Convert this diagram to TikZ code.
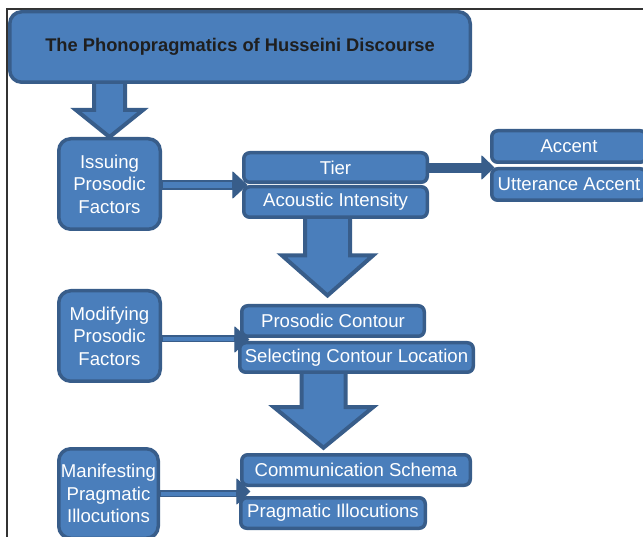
\documentclass[tikz,border=0pt]{standalone}
\usepackage{fontspec}
\setmainfont{Liberation Sans}
\usetikzlibrary{calc}
\definecolor{fil}{HTML}{4A7EBB}
\definecolor{bdr}{HTML}{385D8A}
\definecolor{ttl}{HTML}{1F1F1F}
\definecolor{frm}{HTML}{333333}
\pgfdeclarelayer{bg}
\pgfsetlayers{bg,main}
\begin{document}
\begin{tikzpicture}[x=1pt,y=-1pt,
  box/.style={draw=bdr, fill=fil, line width=3.5pt, text=white, align=center, inner sep=0pt, font=\fontsize{18.6}{22.5}\selectfont},
  bigbox/.style={box, rounded corners=12pt},
  smallbox/.style={box, rounded corners=6pt},
  blockarrow/.style={draw=bdr, fill=fil, line width=4pt, line join=miter},
  thinshaft/.style={draw=bdr, fill=fil, line width=1.5pt},
  darkhead/.style={fill=bdr, draw=bdr, line width=1pt, line join=round},
]
\useasboundingbox (0,0) rectangle (643,537);

% boxes
\node[bigbox, minimum width=460.5pt, minimum height=70.5pt, text=ttl,
      font=\bfseries\fontsize{18.3}{22}\selectfont] (title) at (240,47)
      {The Phonopragmatics of Husseini Discourse};
\node[bigbox, minimum width=101.5pt, minimum height=90.5pt] (issuing) at (109.5,184) {Issuing\\Prosodic\\Factors};
\node[smallbox, minimum width=183.5pt, minimum height=29.5pt] (tier) at (335.5,167.5) {Tier};
\node[smallbox, minimum width=183.5pt, minimum height=30.5pt] (acoustic) at (335.5,202) {Acoustic Intensity};
\node[smallbox, minimum width=154.5pt, minimum height=31.5pt] (accent) at (569,146.5) {Accent};
\node[smallbox, minimum width=154.5pt, minimum height=31.5pt] (utter) at (569,184.5) {Utterance Accent};
\node[bigbox, minimum width=101.5pt, minimum height=90.5pt] (modifying) at (109.5,336) {Modifying\\Prosodic\\Factors};
\node[smallbox, minimum width=182.5pt, minimum height=30.5pt] (contour) at (333,321) {Prosodic Contour};
\node[smallbox, minimum width=233.5pt, minimum height=29.5pt] (selecting) at (356.5,357.5) {Selecting Contour Location};
\node[bigbox, minimum width=99.5pt, minimum height=89.5pt] (manifest) at (108.5,493.5) {Manifesting\\Pragmatic\\Illocutions};
\node[smallbox, minimum width=228.5pt, minimum height=30.5pt] (comm) at (356,470) {Communication Schema};
\node[smallbox, minimum width=184.5pt, minimum height=30.5pt] (pragm) at (333,513) {Pragmatic Illocutions};

\begin{pgfonlayer}{bg}
  % frame
  \draw[frm, line width=1.2pt] (7,540) -- (7,9) -- (646,9);
  % title -> issuing
  \draw[blockarrow] (issuing.north) -- ++(-33.5,-27) -- ++(18,0) -- ++(0,-35) -- ++(31,0) -- ++(0,35) -- ++(18,0) -- cycle;
  % acoustic -> contour
  \draw[blockarrow] ([xshift=-5.5pt,yshift=8.5pt]contour.north) -- ++(-45.5,-40) -- ++(23,0) -- ++(0,-43) -- ++(45,0) -- ++(0,43) -- ++(23,0) -- cycle;
  % selecting -> comm
  \draw[blockarrow] ([xshift=-32.5pt,yshift=5.25pt]comm.north) -- ++(-49.5,-40.5) -- ++(27.5,0) -- ++(0,-40) -- ++(44,0) -- ++(0,40) -- ++(27.5,0) -- cycle;
  % issuing -> tier/acoustic
  \draw[thinshaft] ([yshift=3pt]issuing.east) rectangle ++(71,8);
  \filldraw[darkhead] (issuing.east) ++(70.75,-12) -- ++(0,26) -- ++(14,-13) -- cycle;
  % modifying -> contour/selecting
  \draw[thinshaft] (modifying.east) rectangle ++(73,5.5);
  \filldraw[darkhead] (modifying.east) ++(72.75,-9) -- ++(0,25) -- ++(14,-12.5) -- cycle;
  % manifesting -> comm/pragm
  \draw[thinshaft] ([yshift=2.75pt]manifest.east) rectangle ++(77,5.5);
  \filldraw[darkhead] (manifest.east) ++(76.75,-14.5) -- ++(0,25) -- ++(13,-12.5) -- cycle;
  % tier -> accent
  \fill[bdr] ([yshift=4.5pt]tier.east) rectangle ++(55,10);
  \filldraw[darkhead] (tier.east) ++(52.75,-11.5) -- ++(0,23) -- ++(12,-11.5) -- cycle;
\end{pgfonlayer}
\end{tikzpicture}
\end{document}
